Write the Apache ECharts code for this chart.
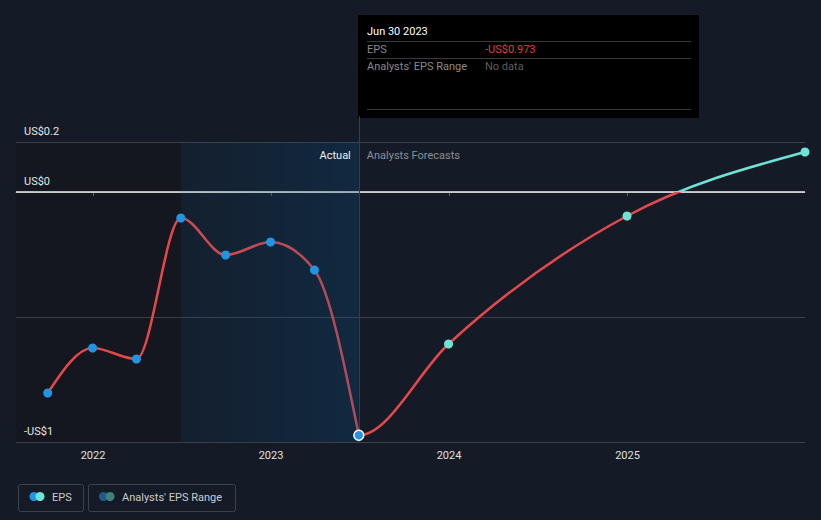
<!DOCTYPE html>
<html><head><meta charset="utf-8">
<script src="https://cdn.jsdelivr.net/npm/echarts@6/dist/echarts.min.js"></script>
<style>html,body{margin:0;padding:0;background:#151b26;}#c{width:821px;height:520px;}</style>
</head><body><div id="c"></div>
<script>
// ---- data ----
const actualDates = ['2021-09-30','2021-12-31','2022-03-31','2022-06-30','2022-09-30','2022-12-31','2023-03-31','2023-06-30'];
const actualEps   = [-0.804, -0.624, -0.668, -0.104, -0.252, -0.200, -0.312, -0.973];
const forecastDates = ['2023-06-30','2023-12-31','2024-12-31','2025-12-31'];
const forecastEps   = [-0.973, -0.608, -0.096, 0.160];
const yTicks = [0.2, 0, -0.5, -1];
const yTickLabels = ['US$0.2', 'US$0', '', '-US$1'];
const xTicks = ['2022-01-01','2023-01-01','2024-01-01','2025-01-01'];
const xTickLabels = ['2022','2023','2024','2025'];
const xMin = '2021-07-27', xMax = '2025-12-31';
const pastStart = '2022-06-30', splitDate = '2023-06-30';
const tooltipDate = 'Jun 30 2023';
const legendNames = ['EPS', "Analysts' EPS Range"];

// ---- styling ----
const FONT = 'Roboto, "Noto Sans", sans-serif';
const RED = '#e5484a', TEAL = '#6fe3d3', BLUE = '#2394df';
const ts = s => Date.UTC(+s.slice(0, 4), +s.slice(5, 7) - 1, +s.slice(8, 10));
const fmtUsd = v => (v < 0 ? '-' : '') + 'US$' + Math.abs(v).toFixed(3);
const xTickTs = xTicks.map(ts);
const lastIdx = actualEps.length - 1;

// monotone-x cubic interpolation (pixel space)
function slope3(p0, p1, p2) {
  const h0 = p1[0] - p0[0], h1 = p2[0] - p1[0];
  const s0 = (p1[1] - p0[1]) / h0, s1 = (p2[1] - p1[1]) / h1;
  const p = (s0 * h1 + s1 * h0) / (h0 + h1);
  return (Math.sign(s0) + Math.sign(s1)) * Math.min(Math.abs(s0), Math.abs(s1), 0.5 * Math.abs(p)) || 0;
}
function slope2(p0, p1, t) { const h = p1[0] - p0[0]; return h ? (3 * (p1[1] - p0[1]) / h - t) / 2 : t; }
function monotonePath(pts, from) {
  const n = pts.length, t = new Array(n).fill(0);
  for (let i = 1; i < n - 1; i++) t[i] = slope3(pts[i - 1], pts[i], pts[i + 1]);
  if (n > 2) { t[0] = slope2(pts[0], pts[1], t[1]); t[n - 1] = slope2(pts[n - 2], pts[n - 1], t[n - 2]); }
  else { t[0] = t[1] = (pts[1][1] - pts[0][1]) / (pts[1][0] - pts[0][0]); }
  let d = 'M' + pts[from][0] + ' ' + pts[from][1];
  for (let i = from; i < n - 1; i++) {
    const dx = (pts[i + 1][0] - pts[i][0]) / 3;
    d += ' C' + (pts[i][0] + dx) + ' ' + (pts[i][1] + dx * t[i]) + ' ' + (pts[i + 1][0] - dx) + ' ' +
         (pts[i + 1][1] - dx * t[i + 1]) + ' ' + pts[i + 1][0] + ' ' + pts[i + 1][1];
  }
  return d;
}

const chart = echarts.init(document.getElementById('c'), null, {renderer: 'svg'});

const gridLines = yTicks.map((v, i) => ({
  yAxis: v,
  lineStyle: v === 0 ? {color: '#f0f0f0', width: 1.5, type: 'solid'} : {color: '#3a3f48', width: 1, type: 'solid'},
  label: {show: !!yTickLabels[i], formatter: yTickLabels[i], position: 'insideStartTop', distance: [8, 5],
          color: '#e6e6e6', fontSize: 11, fontFamily: FONT}
}));

const option = {
  backgroundColor: '#151b26',
  animation: false,
  grid: {left: 16, right: 16, top: 116, bottom: 78},
  xAxis: {
    type: 'value', min: ts(xMin), max: ts(xMax),
    axisLine: {show: true, lineStyle: {color: '#585d66', width: 1}},
    axisTick: {show: true, customValues: xTickTs, length: 4, lineStyle: {color: '#585d66'}},
    axisLabel: {show: true, customValues: xTickTs, color: '#e0e0e0', fontSize: 11, fontFamily: FONT, margin: 8,
      formatter: v => xTickLabels[xTickTs.indexOf(v)] || ''},
    splitLine: {show: false}
  },
  yAxis: {
    type: 'value', min: -1, max: 0.304,
    axisLine: {show: false}, axisTick: {show: false}, axisLabel: {show: false}, splitLine: {show: false}
  },
  series: [
    { // background shading + grid lines
      type: 'line', data: [], z: 1, silent: true,
      markArea: {silent: true, z: 0, data: [[
        {xAxis: ts(xMin), yAxis: -1, itemStyle: {color: '#14171f'}}, {xAxis: ts(pastStart), yAxis: 0.2}
      ]]},
      markLine: {silent: true, symbol: 'none', z: 1, data: gridLines.concat([
        {xAxis: ts(splitDate), lineStyle: {color: '#28425a', width: 1, type: 'solid'}, label: {show: false}}
      ])}
    },
    { // actual EPS line (monotone curve)
      type: 'custom', z: 2, silent: true,
      data: actualDates.map((d, i) => [ts(d), actualEps[i]]),
      renderItem: (params, api) => {
        if (params.dataIndex !== 0) return null;
        const pts = actualDates.map((d, i) => api.coord([ts(d), actualEps[i]]));
        return {type: 'path', shape: {pathData: monotonePath(pts, 0)},
                style: {fill: 'none', stroke: RED, lineWidth: 2.5}};
      }
    },
    { // forecast EPS line (continues the curve from the last actual point)
      type: 'custom', z: 2, silent: true,
      data: forecastDates.map((d, i) => [ts(d), forecastEps[i]]),
      renderItem: (params, api) => {
        if (params.dataIndex !== 0) return null;
        const pts = [api.coord([ts(actualDates[lastIdx - 1]), actualEps[lastIdx - 1]])]
          .concat(forecastDates.map((d, i) => api.coord([ts(d), forecastEps[i]])));
        const y0 = api.coord([ts(xMin), 0])[1];
        return {type: 'path', shape: {pathData: monotonePath(pts, 1)},
                style: {fill: 'none', lineWidth: 2.5, stroke: {
                  type: 'linear', global: true, x: 0, y: y0 - 1, x2: 0, y2: y0 + 1,
                  colorStops: [{offset: 0, color: TEAL}, {offset: 0.5, color: TEAL}, {offset: 0.5, color: RED}, {offset: 1, color: RED}]}}};
      }
    },
    { // overlay regions + labels
      type: 'line', data: [], z: 3, silent: true,
      markArea: {silent: true, z: 3, data: [
        [{xAxis: ts(pastStart), yAxis: -1, itemStyle: {color: {type: 'linear', x: 0, y: 0, x2: 1, y2: 0,
            colorStops: [{offset: 0, color: 'rgba(5,85,145,0.08)'}, {offset: 1, color: 'rgba(5,85,145,0.24)'}]}},
          label: {show: true, formatter: 'Actual', position: 'insideTopRight', distance: 8, color: '#f0f0f0', fontSize: 11, fontFamily: FONT}},
         {xAxis: ts(splitDate), yAxis: 0.2}],
        [{xAxis: ts(splitDate), yAxis: -1, itemStyle: {color: 'rgba(0,0,0,0)'},
          label: {show: true, formatter: 'Analysts Forecasts', position: 'insideTopLeft', distance: 8, color: '#8b9097', fontSize: 11, fontFamily: FONT}},
         {xAxis: ts(xMax), yAxis: 0.2}]
      ]}
    },
    { // actual dots
      type: 'scatter', z: 5, symbolSize: 9,
      data: actualDates.map((d, i) => i === lastIdx
        ? {value: [ts(d), actualEps[i]], symbolSize: 10, itemStyle: {color: BLUE, borderColor: '#ffffff', borderWidth: 1.5}}
        : [ts(d), actualEps[i]]),
      itemStyle: {color: BLUE, opacity: 1}
    },
    { // forecast dots
      type: 'scatter', z: 5, symbolSize: 9, clip: true,
      data: forecastDates.slice(1).map((d, i) => [ts(d), forecastEps[i + 1]]),
      itemStyle: {color: TEAL, opacity: 1}
    }
  ],
  graphic: [
    { // tooltip box
      type: 'group', left: 358, top: 15, children: [
        {type: 'rect', shape: {x: 0, y: 0, width: 341, height: 103}, style: {fill: '#000000'}},
        {type: 'text', x: 9, y: 16, style: {text: tooltipDate, fill: '#ffffff', font: '11px ' + FONT, textVerticalAlign: 'middle'}},
        {type: 'line', shape: {x1: 9, y1: 26.5, x2: 333, y2: 26.5}, style: {stroke: '#3a3a3a', lineWidth: 1}},
        {type: 'text', x: 9, y: 34, style: {text: legendNames[0], fill: '#8a8a8a', font: '11px ' + FONT, textVerticalAlign: 'middle'}},
        {type: 'text', x: 127, y: 34, style: {text: fmtUsd(actualEps[lastIdx]), fill: '#e5393b', font: '11px ' + FONT, textVerticalAlign: 'middle'}},
        {type: 'line', shape: {x1: 9, y1: 43.5, x2: 333, y2: 43.5}, style: {stroke: '#3a3a3a', lineWidth: 1}},
        {type: 'text', x: 9, y: 51, style: {text: legendNames[1], fill: '#8a8a8a', font: '11px ' + FONT, textVerticalAlign: 'middle'}},
        {type: 'text', x: 127, y: 51, style: {text: 'No data', fill: '#5e5e5e', font: '11px ' + FONT, textVerticalAlign: 'middle'}},
        {type: 'line', shape: {x1: 9, y1: 94.5, x2: 333, y2: 94.5}, style: {stroke: '#3a3a3a', lineWidth: 1}}
      ]
    },
    { // legend
      type: 'group', left: 16, top: 482, children: [
        {type: 'rect', shape: {x: 0.5, y: 0.5, width: 65, height: 27, r: 2}, style: {fill: 'none', stroke: '#3d424b', lineWidth: 1}},
        {type: 'circle', shape: {cx: 16, cy: 12.5, r: 4.5}, style: {fill: BLUE}},
        {type: 'circle', shape: {cx: 22, cy: 12.5, r: 4.5}, style: {fill: TEAL}},
        {type: 'text', x: 34, y: 13, style: {text: legendNames[0], fill: '#c9cbcf', font: '11px ' + FONT, textVerticalAlign: 'middle'}},
        {type: 'rect', shape: {x: 70.5, y: 0.5, width: 147, height: 27, r: 2}, style: {fill: 'none', stroke: '#3d424b', lineWidth: 1}},
        {type: 'circle', shape: {cx: 85.5, cy: 12.5, r: 4.5}, style: {fill: '#1f5b87'}},
        {type: 'circle', shape: {cx: 92, cy: 12.5, r: 4.5}, style: {fill: '#40807b'}},
        {type: 'text', x: 104, y: 13, style: {text: legendNames[1], fill: '#c9cbcf', font: '11px ' + FONT, textVerticalAlign: 'middle'}}
      ]
    }
  ]
};
chart.setOption(option);
</script>
</body></html>
